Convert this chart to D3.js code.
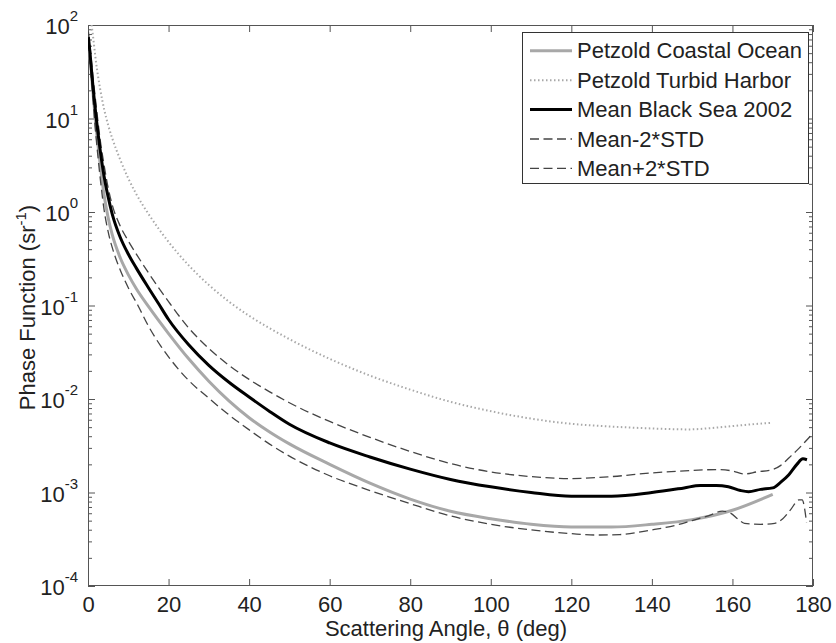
<!DOCTYPE html>
<html><head><meta charset="utf-8">
<script src="https://cdn.jsdelivr.net/npm/d3@7"></script>
<style>
body{margin:0;background:#fff;}
svg{display:block;font-family:"Liberation Sans",Arial,sans-serif;}
</style></head>
<body><svg id="c" width="836" height="643"></svg>
<script>
// ---- data (angle in degrees, phase function in sr^-1) ----
const coastalAngle = [0.1,0.5,1,1.8,3,4,5,6,8,10,12,15,20,25,30,35,40,45,50,60,70,80,90,100,110,120,130,140,150,160,170];
const coastalValue = [70.8,45.7,25.1,10,3.31,1.51,0.871,0.575,0.324,0.214,0.151,0.0977,0.0501,0.0269,0.0155,0.00955,0.00631,0.00447,0.00331,0.002,0.00126,0.000851,0.000631,0.000525,0.000457,0.000427,0.000427,0.000457,0.000513,0.000646,0.000955];

const turbidAngle = [0.9,1.3,2,3,4,5,6,8,10,12,15,20,25,30,35,40,45,50,55,60,70,80,90,100,110,120,130,140,149,155,160,165,169.7];
const turbidValue = [100,72.4,39.8,20.9,12.6,8.51,6.17,3.63,2.29,1.55,0.955,0.479,0.269,0.166,0.11,0.0776,0.0575,0.0437,0.0339,0.0269,0.0178,0.0126,0.00933,0.00741,0.00617,0.00543,0.00507,0.00484,0.00473,0.0049,0.00513,0.00537,0.00556];

const meanAngle = [0.1,0.5,1,2,3,4,5,6,8,10,12,15,17.5,20,25,30,35,40,45,50,60,70,80,90,100,110,120,130,140,148,152,156,159,162,164,167,170,172,174,176,177.5,178.5];
const meanValue = [74.1,50.1,28.2,10.5,4.68,2.4,1.45,0.955,0.537,0.355,0.251,0.155,0.105,0.0708,0.038,0.0229,0.0151,0.0105,0.00741,0.00537,0.00339,0.0024,0.00178,0.00138,0.00115,0.001,0.000912,0.000912,0.001,0.00112,0.00119,0.00119,0.00115,0.00105,0.00102,0.00108,0.00112,0.00129,0.00155,0.002,0.00229,0.00224];

const minusAngle = [0.1,0.5,1,1.6,2.5,3.3,4,5,6.6,8,10,12.4,15,18,20,25,30,35,40,45,50,60,70,80,90,100,110,120,126,132,140,146,150,154,157.5,159.5,161.5,163,167,170.5,172.5,174.5,176.5,177.3,178.4];
const minusValue = [66.1,39.8,21.9,10,3.8,1.82,1.05,0.617,0.347,0.24,0.155,0.1,0.0603,0.0372,0.0282,0.0158,0.0102,0.00676,0.00468,0.00331,0.00245,0.00151,0.00105,0.000759,0.000562,0.000457,0.000398,0.000363,0.000351,0.000355,0.000398,0.000447,0.000501,0.000562,0.000631,0.000603,0.000513,0.000468,0.000457,0.000468,0.000525,0.000661,0.000832,0.000832,0.000479];

const plusAngle = [0.1,0.5,1,2,3,4,5,6,8,10,12,15,20,25,30,35,40,45,50,60,70,80,90,100,110,120,130,140,150,156,160,163,166,170,172,174,176,178,179.6];
const plusValue = [85.1,60.3,35.5,14.1,6.03,3.16,1.82,1.2,0.708,0.49,0.355,0.224,0.11,0.0575,0.0347,0.0229,0.0162,0.012,0.00912,0.00575,0.00389,0.00275,0.00204,0.00166,0.00148,0.00141,0.00148,0.00162,0.00172,0.00176,0.0017,0.00158,0.00166,0.00176,0.00195,0.00234,0.00282,0.00347,0.00412];

const xTicks = [0,20,40,60,80,100,120,140,160,180];
const yExponents = [2,1,0,-1,-2,-3,-4];
const legendLabels = ["Petzold Coastal Ocean","Petzold Turbid Harbor","Mean Black Sea 2002","Mean-2*STD","Mean+2*STD"];
const xTitle = "Scattering Angle, \u03b8 (deg)";
const yTitle = "Phase Function (sr";

// ---- layout ----
const L = 88, R = 813, T = 25, B = 586;
const svg = d3.select("#c");
const x = d3.scaleLinear().domain([0,180]).range([L,R]);
const y = d3.scaleLog().domain([1e-4,1e2]).range([B,T]);
const axisColor = "#555", textColor = "#222";
const fs = 22;

svg.append("defs").append("clipPath").attr("id","clip")
  .append("rect").attr("x",L).attr("y",T).attr("width",R-L).attr("height",B-T);

const minor = [];
for (let e=-4;e<2;e++) for (let m=2;m<=9;m++) minor.push(m*Math.pow(10,e));
const major = yExponents.map(e=>Math.pow(10,e));

function styleAxis(g){
  g.select(".domain").remove();
  g.selectAll(".tick line").attr("stroke",axisColor).attr("stroke-width",1);
  g.selectAll("text").attr("fill",textColor).style("font-size",fs+"px").style("font-family","'Liberation Sans',Arial,sans-serif");
}
svg.append("g").attr("transform",`translate(0,${B})`)
  .call(d3.axisBottom(x).tickValues(xTicks).tickSize(-7).tickPadding(10).tickFormat(d3.format("d")))
  .call(styleAxis);
svg.append("g").attr("transform",`translate(0,${T})`)
  .call(d3.axisTop(x).tickValues(xTicks).tickSize(-7).tickFormat(""))
  .call(styleAxis);
svg.append("g").attr("transform",`translate(${L},0)`)
  .call(d3.axisLeft(y).tickValues(major).tickSize(-7).tickFormat("")).call(styleAxis);
svg.append("g").attr("transform",`translate(${L},0)`)
  .call(d3.axisLeft(y).tickValues(minor).tickSize(-4).tickFormat("")).call(styleAxis);
svg.append("g").attr("transform",`translate(${R},0)`)
  .call(d3.axisRight(y).tickValues(major).tickSize(-7).tickFormat("")).call(styleAxis);
svg.append("g").attr("transform",`translate(${R},0)`)
  .call(d3.axisRight(y).tickValues(minor).tickSize(-4).tickFormat("")).call(styleAxis);

const yl = svg.append("g").attr("fill",textColor);
yExponents.forEach(e=>{
  const t = yl.append("text").attr("x",L-10).attr("y",y(Math.pow(10,e))+9)
    .attr("text-anchor","end").style("font-size",fs+"px");
  t.append("tspan").text("10");
  t.append("tspan").attr("dy",-13).style("font-size","15px").text(String(e));
});

svg.append("rect").attr("x",L+0.5).attr("y",T+0.5).attr("width",R-L-1).attr("height",B-T-1)
  .attr("fill","none").attr("stroke",axisColor).attr("stroke-width",1);

svg.append("text").attr("x",446).attr("y",636).attr("text-anchor","middle")
  .attr("fill",textColor).style("font-size",fs+"px").text(xTitle);
const yt = svg.append("text").attr("transform","translate(35,307.5) rotate(-90)")
  .attr("text-anchor","middle").attr("fill",textColor).style("font-size",fs+"px");
yt.append("tspan").text(yTitle);
yt.append("tspan").attr("dy",-9).style("font-size","15px").text("-1");
yt.append("tspan").attr("dy",9).text(")");

const styles = [
  {a:coastalAngle, v:coastalValue, stroke:"#a8a8a8", w:3, dash:null},
  {a:turbidAngle, v:turbidValue, stroke:"#a8a8a8", w:2, dash:"1.5 2.5"},
  {a:meanAngle, v:meanValue, stroke:"#000", w:3, dash:null},
  {a:minusAngle, v:minusValue, stroke:"#444", w:1.3, dash:"9 4.5"},
  {a:plusAngle, v:plusValue, stroke:"#444", w:1.3, dash:"9 4.5"}
];
const line = d3.line().x(d=>x(d[0])).y(d=>y(d[1])).curve(d3.curveMonotoneX);
const plot = svg.append("g").attr("clip-path","url(#clip)");
[1,0,3,4,2].forEach(i=>{
  const s = styles[i];
  plot.append("path").datum(d3.zip(s.a,s.v)).attr("d",line)
    .attr("fill","none").attr("stroke",s.stroke).attr("stroke-width",s.w)
    .attr("stroke-dasharray",s.dash).attr("stroke-linejoin","round");
});

const lg = svg.append("g");
lg.append("rect").attr("x",522.5).attr("y",32.5).attr("width",286).attr("height",151)
  .attr("fill","#fff").attr("stroke","#333").attr("stroke-width",1);
legendLabels.forEach((lab,i)=>{
  const by = 58.3 + i*29.4;
  const s = styles[i];
  lg.append("line").attr("x1",530).attr("x2",572).attr("y1",by-7.5).attr("y2",by-7.5)
    .attr("stroke",s.stroke).attr("stroke-width",s.w).attr("stroke-dasharray",s.dash);
  lg.append("text").attr("x",577).attr("y",by).attr("fill",textColor)
    .style("font-size",fs+"px").text(lab);
});
</script></body></html>
